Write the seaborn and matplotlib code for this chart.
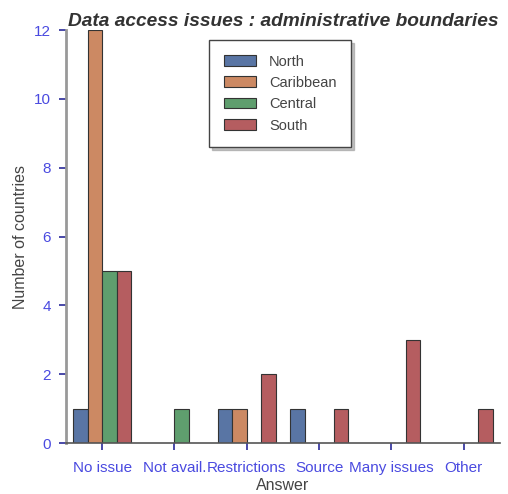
import matplotlib
matplotlib.use("Agg")
import matplotlib.pyplot as plt
import seaborn as sns
import pandas as pd

answers = ["No issue", "Not avail.", "Restrictions", "Source", "Many issues", "Other"]
regions = ["North", "Caribbean", "Central", "South"]

north = [1, None, 1, 1, None, None]
caribbean = [12, None, 1, None, None, None]
central = [5, 1, None, None, None, None]
south = [5, None, 2, 1, 3, 1]

rows = []
for region, vals in zip(regions, [north, caribbean, central, south]):
    for ans, v in zip(answers, vals):
        if v is not None:
            rows.append({"Answer": ans, "Region": region, "Count": v})
df = pd.DataFrame(rows)

sns.set_style("white")
plt.rcParams["font.family"] = ["Liberation Sans", "DejaVu Sans"]

fig = plt.figure(figsize=(5.08, 4.94), dpi=100)
ax = fig.add_axes([0.13, 0.103, 0.854, 0.836])

sns.barplot(data=df, x="Answer", y="Count", hue="Region", order=answers,
            hue_order=regions, palette="deep", width=0.8, edgecolor="#333333",
            linewidth=0.8, ax=ax, errorbar=None)

ax.set_xlim(-0.5, 5.5)
ax.set_ylim(0, 12)
ax.set_yticks([0, 2, 4, 6, 8, 10, 12])
ax.set_xlabel("Answer", color="#444444", fontsize=11.5, labelpad=2)
ax.set_ylabel("Number of countries", color="#444444", fontsize=11.5, labelpad=4)
ax.set_title("Data access issues : administrative boundaries", fontsize=13.8,
             fontweight="bold", fontstyle="italic", color="#333333", pad=3)

ax.tick_params(axis="both", bottom=True, left=True, colors="#2a2a99",
               labelcolor="#4a4ae0", labelsize=11, length=5, width=1.2,
               direction="out")
ax.tick_params(axis="x", pad=8)
ax.tick_params(axis="y", pad=6)
for side in ["top", "right"]:
    ax.spines[side].set_visible(False)
ax.spines["left"].set_color("#999999")
ax.spines["left"].set_linewidth(2)
ax.spines["bottom"].set_color("#555555")
ax.spines["bottom"].set_linewidth(1.2)

leg = ax.legend(title=None, loc="upper left", bbox_to_anchor=(0.33, 0.976),
                frameon=True, fancybox=False,
                shadow={"color": "#999999", "alpha": 0.6},
                fontsize=10.5, borderpad=1.0, labelspacing=0.5,
                handlelength=2.2, handleheight=0.75, handletextpad=0.9,
                borderaxespad=0)
leg.get_frame().set_edgecolor("#444444")
leg.get_frame().set_linewidth(1.0)
for t in leg.get_texts():
    t.set_color("#444444")

fig.savefig("out.png", dpi=100)
